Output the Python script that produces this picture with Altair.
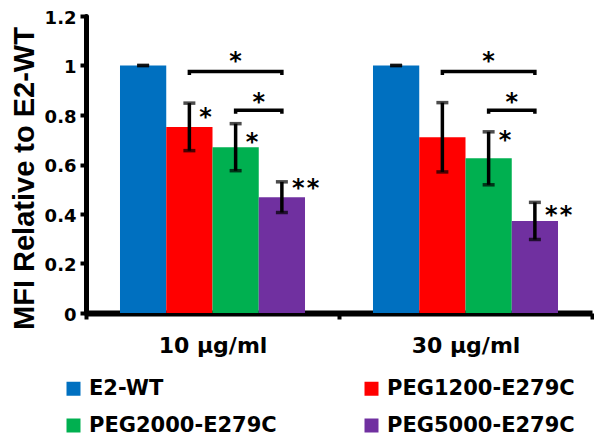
import altair as alt
import pandas as pd

groups = ["10 µg/ml", "30 µg/ml"]
series = ["E2-WT", "PEG1200-E279C", "PEG2000-E279C", "PEG5000-E279C"]
colors = ["#0070C0", "#FF0000", "#00B050", "#7030A0"]
mean_10 = [1.0, 0.752, 0.67, 0.468]
mean_30 = [1.0, 0.71, 0.625, 0.372]
err_10 = [0.0, 0.096, 0.095, 0.062]
err_30 = [0.0, 0.14, 0.107, 0.075]

# significance stars next to bars
star_group = ["10 µg/ml", "10 µg/ml", "10 µg/ml", "30 µg/ml", "30 µg/ml"]
star_series = ["PEG1200-E279C", "PEG2000-E279C", "PEG5000-E279C", "PEG2000-E279C", "PEG5000-E279C"]
star_label = ["*", "*", "*\u200a*", "*", "*\u200a*"]
star_y = [0.807, 0.707, 0.522, 0.715, 0.414]

# brackets between bars
br_group = ["10 µg/ml", "10 µg/ml", "30 µg/ml", "30 µg/ml"]
br_from = ["PEG1200-E279C", "PEG2000-E279C", "PEG1200-E279C", "PEG2000-E279C"]
br_to = ["PEG5000-E279C", "PEG5000-E279C", "PEG5000-E279C", "PEG5000-E279C"]
br_y = [0.976, 0.819, 0.976, 0.819]
br_star_y = [1.036, 0.867, 1.036, 0.867]
br_kind = ["long", "short", "long", "short"]

rows = []
for g, m, e in ((groups[0], mean_10, err_10), (groups[1], mean_30, err_30)):
    for s, mv, ev in zip(series, m, e):
        rows.append({"group": g, "series": s, "mean": mv, "lo": mv - ev, "hi": mv + ev})
bars = pd.DataFrame(rows)

stars = pd.DataFrame({"group": star_group, "series": star_series,
                      "label": star_label, "y": star_y})

hook = 0.014
brows = []
for i, (g, a, b, y) in enumerate(zip(br_group, br_from, br_to, br_y)):
    brows += [
        {"id": i, "group": g, "series": a, "y": y - hook, "o": 0},
        {"id": i, "group": g, "series": a, "y": y, "o": 1},
        {"id": i, "group": g, "series": b, "y": y, "o": 2},
        {"id": i, "group": g, "series": b, "y": y - hook, "o": 3},
    ]
brackets = pd.DataFrame(brows)
bstars = pd.DataFrame({"group": br_group, "y": br_star_y, "kind": br_kind,
                       "series": ["PEG2000-E279C" if k == "long" else "PEG5000-E279C" for k in br_kind]})

FONT = "DejaVu Sans"

x_enc = alt.X("group:N", sort=groups,
              scale=alt.Scale(domain=groups, paddingInner=0, paddingOuter=0),
              axis=alt.Axis(title=None, labelAngle=0, labelFont=FONT, labelFontWeight="bold",
                            labelFontSize=22, labelColor="black", labelPadding=16,
                            tickBand="extent", tickSize=6, tickWidth=4, tickColor="black",
                            domainWidth=6, domainColor="black"))
xo_enc = alt.XOffset("series:N", sort=series,
                     scale=alt.Scale(domain=series, paddingInner=0, paddingOuter=0.735))

y_axis = alt.Axis(values=[0, 0.2, 0.4, 0.6, 0.8, 1.0, 1.2], format="~g",
                  title="MFI Relative to E2-WT", titleFont="Liberation Sans",
                  titleFontSize=29, titleFontWeight="bold", titleColor="black", titlePadding=5,
                  titleY=162,
                  labelFont=FONT, labelFontWeight="bold", labelFontSize=18, labelColor="black",
                  labelPadding=4, labelOffset=2, tickSize=6, tickWidth=4, tickColor="black",
                  domainWidth=5, domainColor="black", domainCap="round", grid=False)

bar = alt.Chart(bars).mark_bar().encode(
    x=x_enc, xOffset=xo_enc,
    y=alt.Y("mean:Q", scale=alt.Scale(domain=[0, 1.2]), axis=y_axis),
    color=alt.Color("series:N", sort=series,
                    scale=alt.Scale(domain=series, range=colors),
                    legend=alt.Legend(orient="none", legendX=-23, legendY=362,
                                      direction="horizontal", columns=2, title=None,
                                      symbolType="square", symbolSize=196,
                                      symbolStrokeWidth=0, symbolOpacity=1,
                                      labelFont=FONT, labelFontWeight="bold",
                                      labelFontSize=21, labelColor="black",
                                      labelOffset=5, rowPadding=15, columnPadding=84,
                                      labelLimit=400)),
)

err_rule = alt.Chart(bars).mark_rule(color="black", strokeWidth=3.5).encode(
    x=x_enc, xOffset=xo_enc, y="lo:Q", y2="hi:Q")
cap_lo = alt.Chart(bars).mark_tick(color="black", thickness=3.5, size=12).encode(
    x=x_enc, xOffset=xo_enc, y="lo:Q")
cap_hi = alt.Chart(bars).mark_tick(color="black", thickness=3.5, size=12).encode(
    x=x_enc, xOffset=xo_enc, y="hi:Q")

star_txt = alt.Chart(stars).mark_text(font=FONT, fontWeight="bold", fontSize=24,
                                      align="left", baseline="middle", dx=10, dy=5,
                                      color="black").encode(
    x=x_enc, xOffset=xo_enc, y="y:Q", text="label:N")

br_line = alt.Chart(brackets).mark_line(color="black", strokeWidth=3.5).encode(
    x=x_enc, xOffset=xo_enc, y="y:Q", detail="id:N", order="o:Q")

bstar_long = alt.Chart(bstars).transform_filter("datum.kind == 'long'").mark_text(
    font=FONT, fontWeight="bold", fontSize=24, align="center", baseline="middle",
    dy=5, color="black").encode(x=x_enc, xOffset=xo_enc, y="y:Q", text=alt.value("*"))
bstar_short = alt.Chart(bstars).transform_filter("datum.kind == 'short'").mark_text(
    font=FONT, fontWeight="bold", fontSize=24, align="center", baseline="middle",
    dx=-23, dy=5, color="black").encode(x=x_enc, xOffset=xo_enc, y="y:Q", text=alt.value("*"))

chart = alt.layer(bar, err_rule, cap_lo, cap_hi, br_line, star_txt, bstar_long, bstar_short).properties(
    width=506, height=297,
    autosize=alt.AutoSizeParams(type="none"),
    padding={"left": 78, "top": 8, "right": 2, "bottom": 122},
).configure_view(strokeWidth=0)

chart.save("out.html", embed_options={"renderer": "svg", "actions": False})
